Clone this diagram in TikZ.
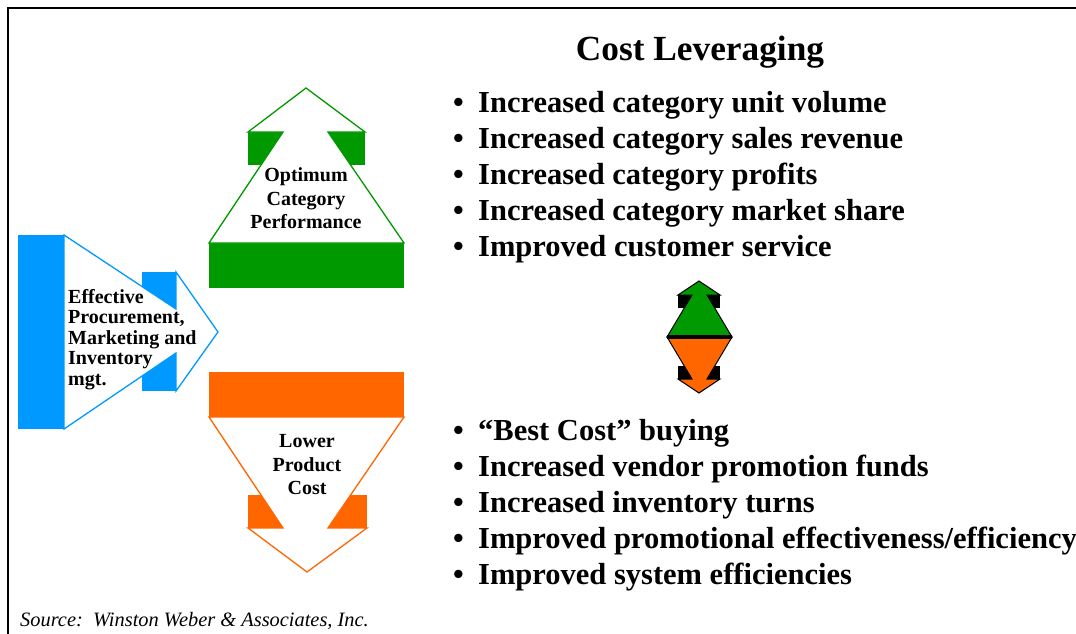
\documentclass[tikz,border=0pt]{standalone}
\usepackage{fontspec}
\setmainfont{Liberation Serif}
\definecolor{perfgreen}{RGB}{0,153,0}
\definecolor{costorange}{RGB}{255,102,0}
\definecolor{mgtblue}{RGB}{0,153,255}
\tikzset{
  bullettext/.style={anchor=base west, inner sep=0pt, font=\fontsize{30.5}{36}\selectfont\bfseries},
  arrowlabel/.style={anchor=north, inner sep=0pt, align=center, font=\fontsize{20}{23.5}\selectfont\bfseries},
}
\begin{document}
\begin{tikzpicture}[x=1pt,y=-1pt]
\useasboundingbox (0,0) rectangle (1076,634);
\draw[line width=2pt] (8,634) -- (8,8.5) -- (1076,8.5);

\fill[color=mgtblue] (18,235) rectangle (64,429);
\fill[color=mgtblue] (142,272) rectangle (176,391);
\filldraw[draw=mgtblue, fill=white, line width=1.3pt] (64,235) -- (176,309) -- (176,272) -- (218,332) -- (176,391) -- (176,353) -- (64,429) -- cycle;

\fill[color=perfgreen] (209,243) rectangle (404,288);
\fill[color=perfgreen] (248,132) rectangle (283,165);
\fill[color=perfgreen] (328,132) rectangle (365,165);
\filldraw[draw=perfgreen, fill=white, line width=1.3pt] (306,88) -- (365,132) -- (328,132) -- (404,243) -- (209,243) -- (283,132) -- (248,132) -- cycle;

\fill[color=costorange] (209,372) rectangle (404,417);
\fill[color=costorange] (248,495) rectangle (283,528);
\fill[color=costorange] (328,495) rectangle (367,528);
\filldraw[draw=costorange, fill=white, line width=1.3pt] (209,417) -- (404,417) -- (328,528) -- (367,528) -- (307,572) -- (248,528) -- (283,528) -- cycle;

\fill (678,295) rectangle (692,308);
\fill (707,295) rectangle (720,308);
\filldraw[fill=perfgreen, draw=black, line width=1pt] (699,281) -- (720,295) -- (707,295) -- (732,337) -- (667,337) -- (692,295) -- (678,295) -- cycle;
\fill (678,366) rectangle (692,379);
\fill (707,366) rectangle (720,379);
\filldraw[fill=costorange, draw=black, line width=1pt] (667,337) -- (732,337) -- (707,379) -- (720,379) -- (699,393) -- (678,379) -- (692,379) -- cycle;
\draw[line width=4pt] (667,337) -- (732,337);

\node[arrowlabel] (perf) at (306,167.5) {Optimum\\Category\\Performance};
\node[arrowlabel] (cost) at (307,434.5) {Lower\\Product\\Cost};
\node[arrowlabel, align=left, anchor=north west, font=\fontsize{20}{20.5}\selectfont\bfseries] (mgt) at (68,289) {Effective\\Procurement,\\Marketing and\\Inventory\\mgt.};

\node[anchor=base, inner sep=0pt, font=\fontsize{35.3}{42}\selectfont\bfseries] (title) at (700,60) {Cost Leveraging};

\node[bullettext] (u1dot) at (453,112) {•};
\node[bullettext] (u2dot) at (453,148) {•};
\node[bullettext] (u3dot) at (453,184) {•};
\node[bullettext] (u4dot) at (453,220) {•};
\node[bullettext] (u5dot) at (453,256) {•};
\node[bullettext] (u1) at (478,112) {Increased category unit volume};
\node[bullettext] (u2) at (478,148) {Increased category sales revenue};
\node[bullettext] (u3) at (478,184) {Increased category profits};
\node[bullettext] (u4) at (478,220) {Increased category market share};
\node[bullettext] (u5) at (478,256) {Improved customer service};

\node[bullettext] (d1dot) at (453,440) {•};
\node[bullettext] (d2dot) at (453,476) {•};
\node[bullettext] (d3dot) at (453,512) {•};
\node[bullettext] (d4dot) at (453,548) {•};
\node[bullettext] (d5dot) at (453,584) {•};
\node[bullettext] (d1) at (478,440) {“Best Cost” buying};
\node[bullettext] (d2) at (478,476) {Increased vendor promotion funds};
\node[bullettext] (d3) at (478,512) {Increased inventory turns};
\node[bullettext] (d4) at (478,548) {Improved promotional effectiveness/efficiency};
\node[bullettext] (d5) at (478,584) {Improved system efficiencies};

\node[anchor=base west, inner sep=0pt, font=\fontsize{20.4}{24}\selectfont\itshape] (source) at (20,626) {Source:\ \ Winston Weber \& Associates, Inc.};
\end{tikzpicture}
\end{document}
